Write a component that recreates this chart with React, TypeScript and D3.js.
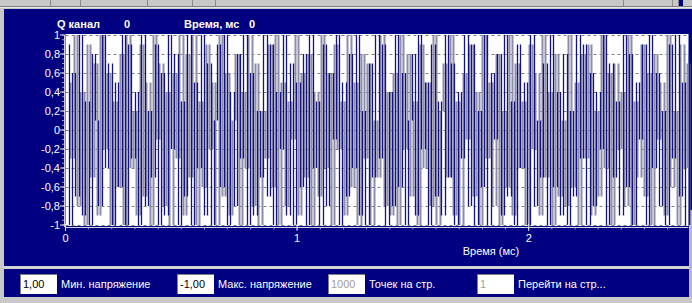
import React from "react";
import * as d3 from "d3";

// Window size
const W = 692;
const H = 303;

// Colours
const navy = "#000080";
const chrome = "#c8c8c8";

// Signal samples (Q channel, dark line)
const qSamplesA = [0.9, -1, 0.6, -0.7, 1, -0.9, 0.3, -1, 0.8, 0.1, -0.8, 1, -0.4, 0.7, -1, 0.5, -0.6, 1, -1, 0.9, -0.3, 0.4, -1, 1, -0.8, 0.2, -0.5, 0.9, -1, 0.6, -0.9, 1, -0.2, 0.8, -1, 0.3, -0.7, 1];
const qSamplesB = [-1, 0.5, -0.4, 1, -0.9, 0.7, -1, 0.1, 0.9, -0.6, 1, -1, 0.4, -0.8, 0.8, -0.3, 1, -1, 0.6, -0.9, 0.2, -0.5, 1, -0.7, 0.9, -1, 0.4, -0.2, 1, -0.9, 0.7, -1, 0.5, -0.6, 0.8, -1, 1, -0.4];
const qSamplesC = [0.3, -1, 0.9, -0.8, 0.6, -0.1, 1, -1, 0.5, -0.7, 0.8, -0.4, 1, -0.9, 0.2, -1, 0.7, -0.5, 1, -0.3, 0.9, -1, 0.4, -0.8, 1, -0.6, 0.6, -1, 0.1, 0.8, -0.9, 1, -0.2, 0.5, -1, 0.9, -0.7, 0.3];
const qSamplesD = [-0.9, 1, -0.5, 0.7, -1, 0.4, -0.3, 1, -0.8, 0.9, -1, 0.2, -0.6, 1, -1, 0.6, -0.1, 0.8, -0.9, 1, -0.7, 0.3, -1, 0.9, -0.4, 0.5, -1, 1, -0.8, 0.1, -0.5, 0.7, -1, 1, -0.6, 0.4, -0.9, 0.8];
const qSamplesE = [-1, 0.2, -0.7, 1, -0.3, 0.9, -1, 0.6, -0.8, 0.4, -0.2, 1, -1, 0.7, -0.5, 0.3, -0.9, 1, -0.6, 0.8, -1, 0.5, -0.1, 0.9, -1, 1, -0.4, 0.6, -0.8, 0.2, -1, 0.9, -0.3, 1, -0.7, 0.5, -1, 0.8];

// Second trace (grey)
const iSamplesA = [0.5, -0.3, 1, -0.8, 0.4, -1, 0.9, -0.5, 0.7, -0.9, 1, -0.2, 0.6, -1, 0.3, -0.6, 0.8, -1, 1, -0.4, 0.2, -0.9, 0.9, -0.7, 0.5, -1, 1, -0.1, 0.7, -0.8, 0.4, -1, 0.6, -0.3, 1, -0.9, 0.8, -0.5];
const iSamplesB = [1, -1, 0.3, -0.6, 0.9, -0.2, 0.5, -1, 1, -0.7, 0.6, -0.9, 0.1, 0.8, -1, 0.4, -0.4, 1, -0.8, 0.7, -1, 0.2, -0.3, 0.9, -0.6, 1, -1, 0.5, -0.8, 0.3, -0.1, 1, -0.9, 0.6, -0.5, 0.8, -1, 0.4];
const iSamplesC = [-0.7, 1, -0.4, 0.6, -1, 0.9, -0.2, 0.3, -0.9, 1, -0.6, 0.5, -1, 0.8, -0.3, 0.7, -1, 0.1, -0.5, 1, -0.8, 0.4, -0.9, 0.6, -1, 1, -0.2, 0.8, -0.7, 0.3, -1, 0.9, -0.4, 0.5, -0.8, 1, -1, 0.2];
const iSamplesD = [0.7, -0.5, 1, -0.9, 0.3, -1, 0.6, -0.1, 0.9, -0.7, 0.4, -1, 1, -0.3, 0.5, -0.8, 0.8, -1, 0.2, -0.6, 1, -0.9, 0.7, -0.4, 0.3, -1, 0.9, -0.2, 0.6, -0.9, 1, -0.5, 0.4, -1, 0.8, -0.7, 0.1, -0.8];
const iSamplesE = [1, -0.6, 0.5, -1, 0.8, -0.3, 0.9, -0.9, 0.2, -0.7, 1, -0.4, 0.6, -1, 0.7, -0.2, 0.4, -0.8, 1, -1, 0.3, -0.5, 0.9, -0.7, 0.6, -1, 0.8, -0.1, 0.5, -0.9, 1, -0.6, 0.2, -1, 0.9, -0.4, 0.7, -1];

const qSamples = [...qSamplesA, ...qSamplesB, ...qSamplesC, ...qSamplesD, ...qSamplesE];
const iSamples = [...iSamplesA, ...iSamplesB, ...iSamplesC, ...iSamplesD, ...iSamplesE];

// Axis ticks
const yTicks = [1, 0.8, 0.6, 0.4, 0.2, 0, -0.2, -0.4, -0.6, -0.8, -1];
const xTicks = [0, 1, 2];
const timeMax = 2.69; // ms visible on the page

// Bottom panel fields
const fields = [
  { value: "1,00", label: "Мин. напряжение", x: 20, disabled: false },
  { value: "-1,00", label: "Макс. напряжение", x: 177, disabled: false },
  { value: "1000", label: "Точек на стр.", x: 328, disabled: true },
  { value: "1", label: "Перейти на стр...", x: 477, disabled: true },
];

const toolbarSeps = [50, 80, 147, 192, 215, 623, 672, 678];

const fmt = (v: number) => (Math.abs(v) < 1e-9 ? "0" : String(+v.toFixed(1)).replace(".", ","));

const App = () => {
  const x = d3.scaleLinear().domain([0, timeMax]).range([65.5, 688.5]);
  const y = d3.scaleLinear().domain([-1, 1]).range([225, 35]);

  const step = timeMax / (qSamples.length - 1);

  // the trace is so dense on screen that each sample shows as a vertical stroke
  // from the previous value to the current one
  const strokes = (vals: number[], offset: number) => {
    let d = "";
    vals.forEach((v, i) => {
      if (i === 0) return;
      const px = Math.round(x(Math.min(timeMax, i * step + offset))) + 0.5;
      d += `M${px},${y(vals[i - 1])}V${y(v)}`;
    });
    return d;
  };

  const minorY = d3.range(-1, 1.0001, 0.05);
  const minorX = d3.range(0, timeMax, 0.1);

  const font = "'Liberation Sans', Arial, sans-serif";

  return (
    <svg
      width={W}
      height={H}
      style={{ position: "fixed", left: 0, top: 0, display: "block" }}
      fontFamily={font}
    >
      {/* window chrome */}
      <rect x={0} y={0} width={W} height={H} fill={chrome} />
      <rect x={4} y={9} width={W - 4} height={257} fill={navy} />
      <line x1={0} x2={W} y1={6.5} y2={6.5} stroke="#808080" />
      <line x1={0} x2={W} y1={7.5} y2={7.5} stroke="#e8e8e8" />
      {toolbarSeps.map((s) => (
        <line key={s} x1={s + 0.5} x2={s + 0.5} y1={0} y2={6} stroke="#8a8a8a" />
      ))}
      <rect x={679} y={0} width={4} height={6} fill={navy} />
      <rect x={4} y={269} width={W - 4} height={28} fill={navy} />
      <line x1={4} x2={W} y1={267.5} y2={267.5} stroke="#d8d8d8" strokeWidth={2} />
      <rect x={689} y={210} width={3} height={87} fill="#b8b8c8" />

      {/* header */}
      <g fill="#fff" fontWeight="bold" fontSize={11}>
        <text x={57} y={28}>Q канал</text>
        <text x={124} y={28}>0</text>
        <text x={184} y={28}>Время, мс</text>
        <text x={249} y={28}>0</text>
      </g>

      {/* plot area */}
      <rect x={x(0)} y={y(1) - 1} width={x(timeMax) - x(0)} height={y(-1) - y(1) + 2} fill="#fff" />
      {yTicks.map((t) => (
        <line
          key={t}
          x1={x(0)}
          x2={x(timeMax)}
          y1={Math.round(y(t)) + 0.5}
          y2={Math.round(y(t)) + 0.5}
          stroke="#808080"
          strokeDasharray="3,3"
        />
      ))}
      <path d={strokes(iSamples, step / 2)} fill="none" stroke="#8c8cab" strokeWidth={2} />
      <path d={strokes(qSamples, 0)} fill="none" stroke="#14147e" strokeWidth={1.3} />

      {/* y axis */}
      <line x1={64.5} x2={64.5} y1={y(1)} y2={y(-1) + 2} stroke="#d0d0e0" />
      {minorY.map((t) => (
        <line key={t} x1={62} x2={64.5} y1={y(t)} y2={y(t)} stroke="#c0c0d8" strokeWidth={0.8} />
      ))}
      {yTicks.map((t) => (
        <g key={t}>
          <line x1={60} x2={64.5} y1={y(t)} y2={y(t)} stroke="#e0e0f0" />
          <text x={60} y={y(t) + 4} fill="#fff" fontSize={11} textAnchor="end">
            {fmt(t)}
          </text>
        </g>
      ))}

      {/* x axis */}
      <line x1={x(0)} x2={x(timeMax)} y1={227.5} y2={227.5} stroke="#d0d0e0" />
      {minorX.map((t) => (
        <line key={t} x1={x(t)} x2={x(t)} y1={227} y2={229.5} stroke="#c0c0d8" strokeWidth={0.8} />
      ))}
      {xTicks.map((t) => (
        <g key={t}>
          <line x1={x(t)} x2={x(t)} y1={224} y2={231} stroke="#e0e0f0" />
          <text x={x(t)} y={242} fill="#fff" fontSize={11} textAnchor="middle">
            {t}
          </text>
        </g>
      ))}
      <text x={491} y={255} fill="#fff" fontSize={11} textAnchor="middle">
        Время (мс)
      </text>

      {/* bottom panel */}
      {fields.map((f) => (
        <g key={f.label}>
          <rect x={f.x} y={274} width={37} height={20} fill="#fff" />
          <line x1={f.x} x2={f.x + 37} y1={274.5} y2={274.5} stroke="#808080" />
          <line x1={f.x + 0.5} x2={f.x + 0.5} y1={274} y2={294} stroke="#808080" />
          <text x={f.x + 3} y={288} fontSize={11} fill={f.disabled ? "#a0a0a0" : "#000"}>
            {f.value}
          </text>
          <text x={f.x + 41} y={288} fontSize={11} fill="#fff">
            {f.label}
          </text>
        </g>
      ))}
    </svg>
  );
};

export default App;
